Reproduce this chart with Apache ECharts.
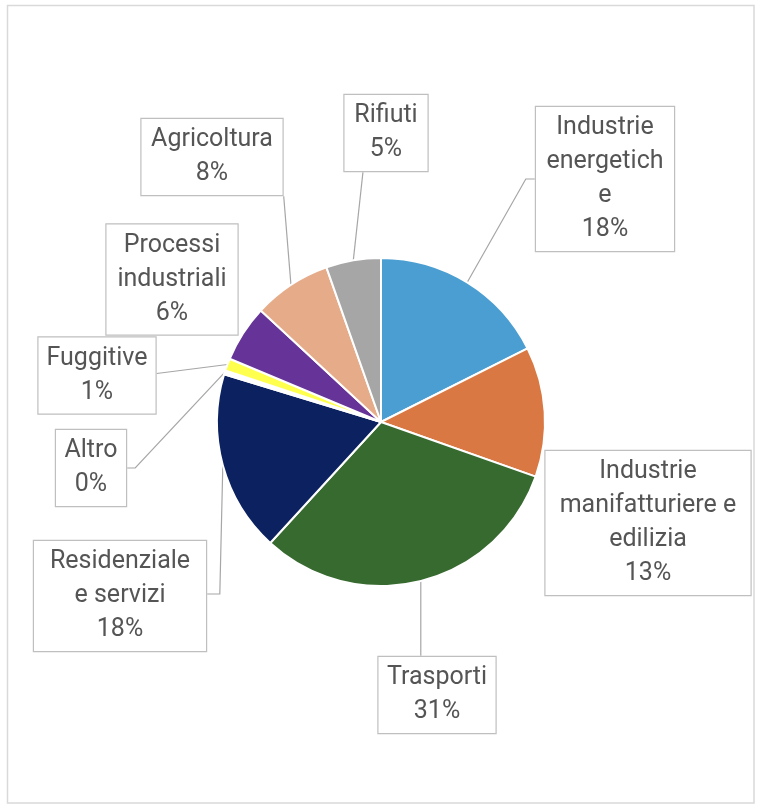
<!DOCTYPE html>
<html>
<head>
<meta charset="utf-8">
<script src="https://cdn.jsdelivr.net/npm/echarts@6/dist/echarts.min.js"></script>
<style>
html,body{margin:0;padding:0;background:#fff;}
#chart{width:760px;height:810px;}
</style>
</head>
<body>
<div id="chart"></div>
<script>
// ---- data ----
const categories = [
  'Industrie energetiche',
  'Industrie manifatturiere e edilizia',
  'Trasporti',
  'Residenziale e servizi',
  'Altro',
  'Fuggitive',
  'Processi industriali',
  'Agricoltura',
  'Rifiuti'
];
const values = [17.6, 12.8, 31.4, 17.9, 0.4, 1.2, 5.6, 7.7, 5.4];
// label text as wrapped in the reference
const labelLines = [
  'Industrie\nenergetich\ne',
  'Industrie\nmanifatturiere e\nedilizia',
  'Trasporti',
  'Residenziale\ne servizi',
  'Altro',
  'Fuggitive',
  'Processi\nindustriali',
  'Agricoltura',
  'Rifiuti'
];

// ---- styles / layout ----
const colors = ['#4B9ED1', '#D97842', '#376A2F', '#0B2160', '#FFFFFF', '#FFFF4D', '#663399', '#E6AC8A', '#A6A6A6'];
const labelCenters = [
  [605, 179], [648, 523], [437, 695], [120, 596], [91, 468],
  [97, 375.5], [172, 279.5], [212, 157], [386, 133]
];
const labelWidths = [138, 205, 117, 172, 70, 117, 131, 141, 83];
// how each leader line meets its label box
const lineModes = ['leftElbow', 'none', 'topVertical', 'rightVertical', 'rightElbow',
                   'right', 'none', 'bottomRightCorner', 'bottomLeftThird'];

const chart = echarts.init(document.getElementById('chart'), null, {renderer: 'canvas'});

const data = categories.map((name, i) => ({
  name: name,
  value: values[i],
  itemStyle: {color: colors[i]},
  label: {width: labelWidths[i] - 2},
  labelLine: {show: lineModes[i] !== 'none'}
}));

function leaderPoints(mode, a, cx, cy, w, h) {
  const l = cx - w / 2, r = cx + w / 2, t = cy - h / 2, b = cy + h / 2;
  switch (mode) {
    case 'leftElbow': return [a, [l - 9, cy], [l, cy]];
    case 'rightElbow': return [a, [r + 8, cy], [r, cy]];
    case 'right': return [a, [r, cy - 2]];
    case 'topVertical': return [a, [a[0], t]];
    case 'rightVertical': return [a, [a[0] - 3, cy - 2], [r, cy - 2]];
    case 'bottomRightCorner': return [a, [r, b]];
    case 'bottomLeftThird': return [a, [l + w * 0.23, b]];
  }
  return null;
}

chart.setOption({
  animation: false,
  backgroundColor: '#ffffff',
  graphic: [{
    type: 'rect',
    shape: {x: 7.5, y: 5.5, width: 746.5, height: 797.5},
    style: {fill: 'none', stroke: '#D9D9D9', lineWidth: 1.5},
    silent: true
  }],
  series: [{
    type: 'pie',
    center: [381, 422],
    radius: 164,
    startAngle: 90,
    clockwise: true,
    avoidLabelOverlap: false,
    itemStyle: {borderColor: '#ffffff', borderWidth: 2},
    label: {
      show: true,
      position: 'outside',
      formatter: function (p) {
        return labelLines[p.dataIndex] + '\n' + Math.round(p.percent) + '%';
      },
      fontFamily: 'Roboto',
      fontSize: 25,
      lineHeight: 34,
      color: '#555555',
      align: 'center',
      backgroundColor: '#ffffff',
      borderColor: '#BFBFBF',
      borderWidth: 1.2,
      padding: [7, 1, 1, 1]
    },
    labelLine: {
      show: true,
      length: 10,
      length2: 9,
      smooth: false,
      minTurnAngle: 0,
      lineStyle: {color: '#A6A6A6', width: 1.2}
    },
    labelLayout: function (params) {
      const i = params.dataIndex;
      const c = labelCenters[i];
      const out = {x: c[0], y: c[1], align: 'center', verticalAlign: 'middle'};
      const lp = params.labelLinePoints;
      if (lp && lp.length && lineModes[i] !== 'none') {
        const rect = params.labelRect;
        const pts = leaderPoints(lineModes[i], [lp[0][0], lp[0][1]], c[0], c[1], rect.width, rect.height);
        if (pts) out.labelLinePoints = pts;
      }
      return out;
    },
    emphasis: {disabled: true},
    data: data
  }]
});
</script>
</body>
</html>
